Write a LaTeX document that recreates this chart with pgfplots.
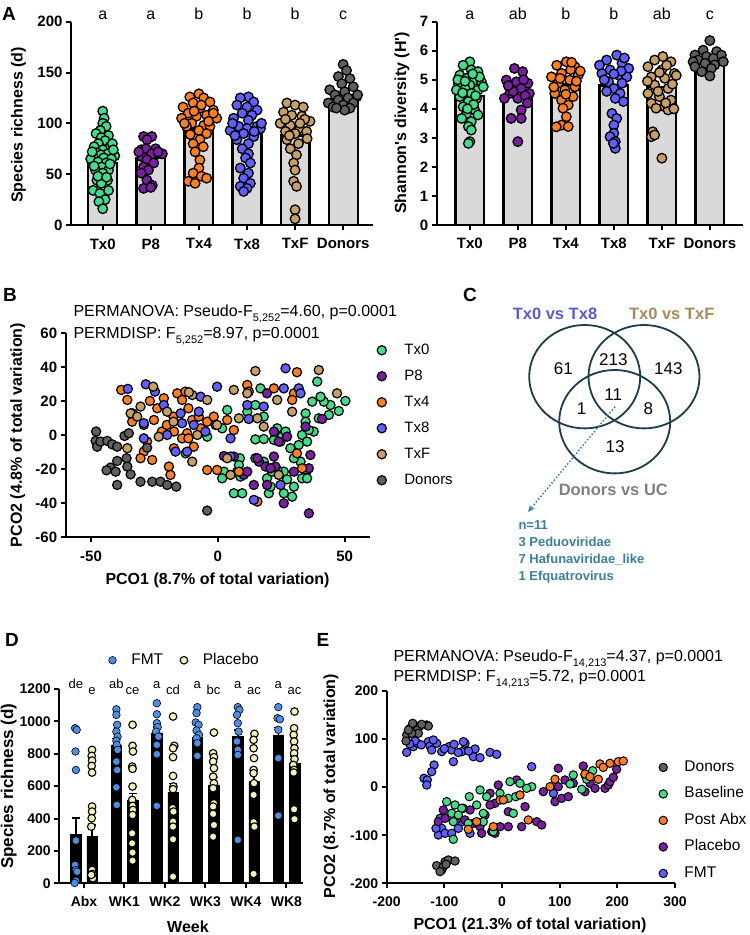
\documentclass[border=0pt]{standalone}
\usepackage{fontspec}
\setmainfont{Liberation Sans}
\usepackage{pgfplots}
\pgfplotsset{compat=1.18}
\usetikzlibrary{arrows.meta}
\newcommand\fs[1]{\fontsize{#1}{#1}\selectfont}
\definecolor{cTxZero}{HTML}{42DC8A}
\definecolor{cPE}{HTML}{7A1FA2}
\definecolor{cTxFour}{HTML}{FF7F1E}
\definecolor{cTxEight}{HTML}{5F5FFF}
\definecolor{cTxF}{HTML}{C9A064}
\definecolor{cDon}{HTML}{5F5F5F}
\definecolor{barfill}{HTML}{D9D9D9}
\definecolor{cFMT}{HTML}{4D8FE6}
\definecolor{cPla}{HTML}{F2F2B5}
\definecolor{venn}{HTML}{1F3C4C}
\definecolor{cTeal}{HTML}{3A8099}
\definecolor{vTxEight}{HTML}{5B5BD6}
\definecolor{vTxF}{HTML}{A88A5A}
\definecolor{vGray}{HTML}{7F7F7F}
\pgfplotsset{
  myaxis/.style={
    scale only axis,
    axis x line*=bottom, axis y line*=left,
    axis line style={line width=2pt, black},
    tick style={line width=2pt, black},
    tick align=outside,
    major tick length=5pt,
    minor tick num=0,
    /pgf/number format/assume math mode=true,
    /pgf/number format/1000 sep={},
    clip=false,
    every axis y label/.style={rotate=90, anchor=center, font=\bfseries\fs{16}},
    every axis x label/.style={anchor=center, font=\bfseries\fs{16}},
  },
  dot/.style={only marks, mark=*, mark size=#1},
  mylegend/.style={
    legend cell align=left,
    legend image code/.code={\draw[##1] plot coordinates {(0pt,0pt)};},
  },
}
\begin{document}
\begin{tikzpicture}
\path[use as bounding box] (0pt,0pt) rectangle (750pt,935pt);
% ---------------- Panel A left
\begin{axis}[myaxis, at={(71pt,710pt)}, anchor=south west, width=302pt, height=203.3pt,
  xmin=-0.66, xmax=5.62, ymin=0, ymax=200,
  xtick={0,...,5}, xticklabels={Tx0,P8,Tx4,Tx8,TxF,Donors},
  ytick={0,50,100,150,200},
  ticklabel style={font=\bfseries\fs{15}}, xticklabel style={yshift=-5pt},
  ylabel={Species richness (d)}, ylabel style={at={(axis description cs:-0.174,0.492)}}]
\addplot[ybar, bar shift=0pt, bar width=0.6, fill=barfill, draw=black, line width=2.2pt] coordinates {(0,61) (1,66) (2,95) (3,90) (4,88) (5,124)};
\addplot[dot=4.8pt, mark options={fill=cTxZero, draw=black, line width=1.3pt}] table[x expr=\thisrow{o}+0, y=v] {
o v
0.00 112
0.03 105
0.0 100
0.07 97
-0.05 93
-0.14 90
0.12 88
-0.03 86
0.05 83
-0.09 80
-0.18 77
0.15 77
0.0 74
-0.12 71
0.10 70
-0.04 69
0.25 68
-0.2 67
0.02 66
-0.25 65
0.18 65
-0.1 62
0.07 61
-0.02 57
-0.15 54
0.12 54
0.0 51
-0.12 44
0.1 44
-0.03 41
-0.2 34
0.12 34
-0.06 31
0.05 25
-0.08 23
0.0 16
0.2 80
-0.22 72
0.15 60
-0.18 58
0.22 74
-0.1 48
0.08 47
};
\addplot[dot=4.8pt, mark options={fill=cPE, draw=black, line width=1.3pt}] table[x expr=\thisrow{o}+1, y=v] {
o v
-0.15 87
0.02 87
-0.08 84
-0.2 74
-0.1 75
0.1 75
0.24 70
0.02 70
-0.18 67
-0.08 64
0.06 61
-0.15 57
-0.05 54
-0.2 51
-0.08 44
0.03 39
-0.15 36
0.0 37
0.15 72
-0.25 72
};
\addplot[dot=4.8pt, mark options={fill=cTxFour, draw=black, line width=1.3pt}] table[x expr=\thisrow{o}+2, y=v] {
o v
0 129
-0.19 126
0.1 125
0.23 121
-0.12 120
-0.33 116
0.02 115
0.3 113
-0.22 110
0.16 108
-0.05 107
-0.36 105
0.37 105
-0.15 100
0.1 98
-0.26 97
0.23 97
0 93
-0.18 89
0.16 90
0.02 84
-0.12 80
0.09 77
-0.08 72
0.02 64
0 56
-0.12 51
0.05 48
-0.22 43
-0.08 41
0.16 46
-0.3 100
0.3 110
0.05 118
-0.1 112
0.2 102
};
\addplot[dot=4.8pt, mark options={fill=cTxEight, draw=black, line width=1.3pt}] table[x expr=\thisrow{o}+3, y=v] {
o v
0.03 126
-0.14 125
0.14 121
-0.21 118
0 116
0.21 113
-0.1 110
0.1 108
-0.28 105
0.03 103
0.21 97
-0.17 97
0 95
-0.35 93
0.28 95
-0.07 90
0.14 87
-0.21 84
0.03 80
-0.1 75
0.03 70
-0.03 66
0.07 61
-0.14 56
0.03 51
-0.07 46
0.07 41
-0.14 38
0 36
-0.07 33
0.3 100
-0.3 100
0.15 92
-0.25 88
};
\addplot[dot=4.8pt, mark options={fill=cTxF, draw=black, line width=1.3pt}] table[x expr=\thisrow{o}+4, y=v] {
o v
-0.17 120
0 118
0.17 116
-0.24 111
-0.07 108
0.14 107
0.31 102
-0.31 100
-0.1 98
0.1 95
-0.2 92
0.24 92
0 90
-0.17 84
0.07 80
-0.1 75
0.03 69
-0.03 61
0 54
-0.03 43
0.03 38
0 15
0 6
0.2 104
-0.2 104
0.25 85
0.1 100
-0.12 88
};
\addplot[dot=4.8pt, mark options={fill=cDon, draw=black, line width=1.3pt}] table[x expr=\thisrow{o}+5, y=v] {
o v
0 158
0.07 152
-0.1 146
0.14 144
-0.03 139
0.21 136
-0.28 133
0.03 131
-0.17 128
0.28 126
0.1 125
-0.1 123
-0.31 120
0.21 120
0 118
-0.21 116
0.14 115
0.03 113
-0.14 115
0.3 128
};
\node[font=\fs{16}, anchor=base] at (axis cs:0,202) {a};
\node[font=\fs{16}, anchor=base] at (axis cs:1,202) {a};
\node[font=\fs{16}, anchor=base] at (axis cs:2,202) {b};
\node[font=\fs{16}, anchor=base] at (axis cs:3,202) {b};
\node[font=\fs{16}, anchor=base] at (axis cs:4,202) {b};
\node[font=\fs{16}, anchor=base] at (axis cs:5,202) {c};
\end{axis}
% ---------------- Panel A right
\begin{axis}[myaxis, at={(436.7pt,710pt)}, anchor=south west, width=306.3pt, height=203.3pt,
  xmin=-0.69, xmax=5.69, ymin=0, ymax=7,
  xtick={0,...,5}, xticklabels={Tx0,P8,Tx4,Tx8,TxF,Donors},
  ytick={0,...,7},
  ticklabel style={font=\bfseries\fs{15}}, xticklabel style={yshift=-5pt},
  ylabel={Shannon\textquotesingle s diversity (H\textquotesingle)}, ylabel style={at={(axis description cs:-0.113,0.502)}}]
\addplot[ybar, bar shift=0pt, bar width=0.6, fill=barfill, draw=black, line width=2.2pt] coordinates {(0,4.44) (1,4.42) (2,4.84) (3,4.8) (4,4.76) (5,5.63)};
\addplot[dot=4.8pt, mark options={fill=cTxZero, draw=black, line width=1.3pt}] table[x expr=\thisrow{o}+0, y=v] {
o v
0 5.62
-0.14 5.5
0.03 5.34
0.17 5.28
-0.21 5.16
-0.07 5.05
0.1 4.99
0.24 4.93
-0.24 4.88
0 4.82
-0.1 4.7
0.17 4.65
0.03 4.53
-0.21 4.42
0.14 4.36
-0.03 4.25
-0.14 4.07
0.1 3.96
-0.07 3.84
0.17 3.79
-0.17 3.67
0.03 3.56
-0.03 3.39
0.03 3.27
0 2.87
-0.03 2.81
0.28 4.76
-0.28 4.65
0.2 5.1
-0.15 4.55
0.08 4.15
-0.25 5.0
0.12 4.45
-0.1 4.95
0.06 5.2
-0.05 4.0
};
\addplot[dot=4.8pt, mark options={fill=cPE, draw=black, line width=1.3pt}] table[x expr=\thisrow{o}+1, y=v] {
o v
-0.07 5.39
0.1 5.28
-0.24 4.99
-0.03 4.93
0.21 4.88
0.07 4.7
-0.17 4.53
0.24 4.53
-0.28 4.36
0 4.36
0.07 3.96
-0.14 3.67
0.07 3.67
0 2.87
0.15 4.45
-0.1 4.6
0.12 5.0
-0.2 4.8
0.2 4.2
};
\addplot[dot=4.8pt, mark options={fill=cTxFour, draw=black, line width=1.3pt}] table[x expr=\thisrow{o}+2, y=v] {
o v
0.01 5.62
-0.19 5.5
0.19 5.45
-0.09 5.22
0.26 5.16
-0.3 5.1
0.08 4.99
-0.16 4.88
0.19 4.76
-0.02 4.65
-0.23 4.53
0.15 4.42
-0.09 4.3
0.05 4.13
-0.06 4.02
0.01 3.73
-0.09 3.44
0.05 3.39
-0.2 3.38
0.3 5.3
0.1 5.35
-0.25 4.75
0.22 4.95
0.0 4.5
0.12 5.6
-0.12 5.05
};
\addplot[dot=4.8pt, mark options={fill=cTxEight, draw=black, line width=1.3pt}] table[x expr=\thisrow{o}+3, y=v] {
o v
0.06 5.85
-0.15 5.68
0.17 5.57
0.31 5.39
-0.08 5.34
-0.25 5.22
0.1 5.16
0.27 5.1
-0.11 4.93
0.17 4.88
0 4.7
0.13 4.53
0.03 4.36
-0.04 3.84
0.06 3.67
0 3.44
0 3.16
-0.08 3.04
0.03 2.87
0.03 2.64
-0.01 2.81
-0.3 5.5
0.22 5.75
-0.2 5.0
0.15 5.3
0.0 5.2
-0.15 4.6
0.2 4.25
};
\addplot[dot=4.8pt, mark options={fill=cTxF, draw=black, line width=1.3pt}] table[x expr=\thisrow{o}+4, y=v] {
o v
0.02 5.8
-0.15 5.68
0.19 5.62
-0.29 5.45
0 5.34
0.26 5.22
-0.22 5.1
0.06 5.05
-0.15 4.82
0.13 4.7
-0.29 4.53
-0.05 4.42
0.19 4.3
-0.22 4.19
0.06 4.07
-0.12 4.02
0.13 3.96
-0.19 3.21
-0.22 3.04
-0.15 3.1
0 2.3
0.3 5.15
0.1 5.5
-0.08 4.6
0.22 4.85
-0.3 4.95
0.08 4.2
0.25 4.0
-0.05 5.25
};
\addplot[dot=4.8pt, mark options={fill=cDon, draw=black, line width=1.3pt}] table[x expr=\thisrow{o}+5, y=v] {
o v
0 6.35
-0.14 6.02
0.14 5.97
-0.31 5.85
0.24 5.85
-0.07 5.8
0.07 5.74
-0.24 5.68
0.28 5.62
-0.35 5.62
-0.1 5.57
0.1 5.51
-0.31 5.45
0.03 5.39
-0.17 5.28
0 5.13
};
\node[font=\fs{16}, anchor=base] at (axis cs:0,7.06) {a};
\node[font=\fs{16}, anchor=base] at (axis cs:1,7.06) {ab};
\node[font=\fs{16}, anchor=base] at (axis cs:2,7.06) {b};
\node[font=\fs{16}, anchor=base] at (axis cs:3,7.06) {b};
\node[font=\fs{16}, anchor=base] at (axis cs:4,7.06) {ab};
\node[font=\fs{16}, anchor=base] at (axis cs:5,7.06) {c};
\end{axis}
% ---------------- Panel B
\begin{axis}[myaxis, mylegend, at={(65.7pt,397.7pt)}, anchor=south west, width=304.3pt, height=204pt,
  xmin=-60, xmax=60, ymin=-60, ymax=60,
  xtick={-50,0,50}, ytick={-60,-40,...,60},
  ticklabel style={font=\bfseries\fs{15}}, xticklabel style={yshift=-5pt},
  xlabel={PCO1 (8.7\% of total variation)}, xlabel style={at={(axis description cs:0.499,-0.209)}},
  ylabel={PCO2 (4.8\% of total variation)}, ylabel style={at={(axis description cs:-0.158,0.501)}},
  legend style={at={(axis description cs:1.023,0.952)}, anchor=north west, draw=none, fill=none, inner sep=0pt, row sep=12pt, font=\fs{15}, nodes={inner sep=0pt, text height=11pt, text depth=3pt}, /tikz/every odd column/.append style={column sep=18pt}}]
\addlegendimage{dot=4.6pt, mark options={fill=cTxZero, draw=black, line width=1.2pt}}\addlegendentry{Tx0}
\addlegendimage{dot=4.6pt, mark options={fill=cPE, draw=black, line width=1.2pt}}\addlegendentry{P8}
\addlegendimage{dot=4.6pt, mark options={fill=cTxFour, draw=black, line width=1.2pt}}\addlegendentry{Tx4}
\addlegendimage{dot=4.6pt, mark options={fill=cTxEight, draw=black, line width=1.2pt}}\addlegendentry{Tx8}
\addlegendimage{dot=4.6pt, mark options={fill=cTxF, draw=black, line width=1.2pt}}\addlegendentry{TxF}
\addlegendimage{dot=4.6pt, mark options={fill=cDon, draw=black, line width=1.2pt}}\addlegendentry{Donors}
\addplot[forget plot, dot=4.6pt, mark options={fill=cTxZero, draw=black, line width=1.2pt}] table {
50.3 20.2
47.7 14.3
44.4 17.8
41.8 19.8
40.5 22.7
39.2 31.6
37.2 19.8
34.6 12.9
34.6 8
33.2 0.2
35.2 -3.7
31.9 -5.7
37.8 2.2
35.9 3.1
39.8 10
43.8 12
32.6 -15.5
35.2 -20.4
33.2 -25.3
35.2 -25.3
30 -30.2
29.3 -36.1
26 -34.1
26 -21.4
27.3 -25.9
23.4 -20.4
20.1 -34.1
20.8 -30.2
19.4 -25.3
21.4 -21.4
18.1 -15.5
14.8 -13.5
14.8 -2.4
18.1 -2.2
16.8 27.6
18.1 11
14.8 17.8
11.6 13.9
8.7 -13.5
7.6 -21.4
8.9 -24.3
6.3 -34.1
9.6 -34.1
8.3 -17.5
3.7 14.9
1.7 4.1
2.4 -21.4
1.7 -25.3
-4.2 -0.8
-12.7 -10.6
22.1 -2.7
24.7 -3.7
23.4 4.1
25.3 -0.8
26.7 2.2
28.6 -7.6
30 -13.5
};
\addplot[forget plot, dot=4.6pt, mark options={fill=cPE, draw=black, line width=1.2pt}] table {
19.4 24.7
22.1 2.2
24.0 -3.7
16.2 -15.5
15.6 -13.5
18.8 -18.4
10.2 -23.3
2.4 -12.2
6.3 -12.5
14.2 -29.2
19.4 -29.2
22.1 -12.5
22.7 -18.4
20.8 -19.4
26 -40
27.3 -0.8
30 -21.4
34.6 5.1
36.5 -11.6
35.9 -19.4
35.9 -45.9
41.1 9.6
11.6 -21.4
};
\addplot[forget plot, dot=4.6pt, mark options={fill=cTxFour, draw=black, line width=1.2pt}] table {
-38.1 26.7
-35.7 20.8
-33.8 8
-29.2 -9.6
-25.9 -14.5
-26.8 20.2
-23.9 15.9
-21.3 21.8
-25.2 9
-22.1 2.2
-20.1 6.1
-17.5 11
-16 24.7
-14.1 20.8
-12.8 25.7
-11.6 15.9
-10.1 9
-12.1 1.2
-14.1 -1.8
-11.6 -1.8
-9.5 -6.7
-17.3 -7.6
-19.3 -18.4
-18.7 -23.3
-17.3 2.2
-7.5 11
-6.8 4.1
-4.2 8
-1.6 11
-0.9 6.1
3.7 9
6.3 3.1
-4.2 -20.4
-0.3 -20.4
11.6 29.6
12.2 25.7
22.1 27.6
30 24.7
29.3 20.8
31.2 37.1
31.2 -10.6
33.2 -19.4
15.6 -39
8.3 -21.4
-29.2 6.1
-30.5 -13.5
-27.9 -3.7
};
\addplot[forget plot, dot=4.6pt, mark options={fill=cTxEight, draw=black, line width=1.2pt}] table {
-35.5 27.3
-28.4 30
-24.8 25.7
-33.6 12.9
-29.2 7.1
-29.2 -1.8
-21.3 17.8
-14.7 12.9
-14.1 7.1
-16.7 -9.6
-12.1 -9.6
-6.8 22.7
-7.5 13.9
-0.3 28.6
-4.9 2.2
5 -1.8
5 -12.5
11.6 17.8
12.2 9.6
14.2 -38
18.1 16.9
26 27.6
26.7 39.4
31.9 27.6
32.6 24.7
24.7 -29.2
-9.5 6.1
-20 0.2
};
\addplot[forget plot, dot=4.6pt, mark options={fill=cTxF, draw=black, line width=1.2pt}] table {
-25.5 28.6
-34.4 12.9
-31.8 11
-35.7 -7.6
-30.5 16.9
-23.3 -0.8
-20 13.9
-17.5 8
-10.1 23.7
-11.4 25.3
-10.1 -15.5
-8.1 0.2
-4.2 20.8
-0.3 6.1
6.3 26.7
8.3 10
14.8 37.8
11.6 24.7
15.6 10
18.1 5.1
23.4 20.8
29.3 13.9
39.8 38.4
47 24.7
24 -23.3
5 -23.3
3.7 -13.5
};
\addplot[forget plot, dot=4.6pt, mark options={fill=cDon, draw=black, line width=1.2pt}] table {
-48.2 -3.3
-47.6 -6.7
-46.3 -3.7
-43.6 -3.3
-41.7 -5.3
-39.7 -6.7
-36.8 -0.4
-35.1 1.2
-36 -13.5
-39.7 -15.1
-42.3 -19
-43.9 -20.6
-39.7 -29.2
-40.3 -21.4
-35.7 -18.4
-34.4 -23
-30.5 -27.3
-25.9 -27.3
-22.6 -27.3
-20 -29.2
-16.4 -30.2
-27.9 -7.3
-4.2 -44.3
-48 2.2
};
\end{axis}
% ---------------- Panel D
\begin{axis}[myaxis, mylegend, at={(59.3pt,51.7pt)}, anchor=south west, width=243.7pt, height=194.3pt,
  xmin=-0.61, xmax=5.41, ymin=0, ymax=1200,
  xtick={0,...,5}, xticklabels={Abx,WK1,WK2,WK3,WK4,WK8},
  ytick={0,200,...,1200},
  ticklabel style={font=\bfseries\fs{14}}, xticklabel style={yshift=-5pt},
  xlabel={Week}, xlabel style={at={(axis description cs:0.528,-0.225)}},
  ylabel={Species richness (d)}, ylabel style={at={(axis description cs:-0.208,0.5)}, font=\bfseries\fs{17}},
  legend columns=2,
  legend style={at={(axis description cs:0.202,1.185)}, anchor=north west, draw=none, fill=none, inner sep=0pt, font=\fs{15.5}, nodes={inner sep=0pt, text height=11pt, text depth=3pt}, /tikz/every odd column/.append style={column sep=15pt}, /tikz/every even column/.append style={column sep=17pt}}]
\addlegendimage{dot=3.8pt, mark options={fill=cFMT, draw=black, line width=0.6pt}}\addlegendentry{FMT}
\addlegendimage{dot=3.8pt, mark options={fill=cPla, draw=black, line width=1.1pt}}\addlegendentry{Placebo}
\addplot[forget plot, ybar, bar shift=0pt, bar width=0.26, fill=black, draw=black,
  error bars/.cd, y dir=plus, y explicit, error bar style={line width=1.5pt}, error mark options={rotate=90, mark size=4pt, line width=1.5pt}]
  coordinates {(-0.2,303) +- (0,100) (0.8,855) +- (0,40) (1.8,930) +- (0,35) (2.8,900) +- (0,30) (3.8,906) +- (0,40) (4.8,917) +- (0,45)};
\addplot[forget plot, ybar, bar shift=0pt, bar width=0.26, fill=black, draw=black,
  error bars/.cd, y dir=plus, y explicit, error bar style={line width=1.5pt}, error mark options={rotate=90, mark size=4pt, line width=1.5pt}]
  coordinates {(0.2,288) +- (0,72) (1.2,515) +- (0,41) (2.2,560) +- (0,55) (3.2,608) +- (0,45) (4.2,628) +- (0,50) (5.2,740) +- (0,45)};
\addplot[forget plot, dot=3.8pt, mark options={fill=cFMT, draw=black, line width=0.6pt}] table {
-0.22 958
-0.18 948
-0.21 814
-0.2 700
-0.2 264
-0.22 113
-0.2 82
-0.17 72
-0.2 16
-0.23 2
0.8 1075
0.8 1040
0.82 979
0.8 937
0.83 906
0.8 880
0.81 855
0.83 824
0.8 752
0.82 700
0.8 593
0.81 484
1.8 1112
1.8 1044
1.8 989
1.82 964
1.78 937
1.84 906
1.8 855
1.8 797
1.8 478
2.8 1088
2.78 1051
2.76 993
2.83 979
2.78 944
2.84 917
2.78 896
2.8 865
2.8 787
3.8 1088
3.84 1071
3.78 1040
3.8 989
3.82 937
3.78 876
3.8 824
3.8 793
3.8 268
4.8 1088
4.78 1020
4.84 1013
4.8 948
4.8 773
4.8 418
};
\addplot[forget plot, dot=3.8pt, mark options={fill=cPla, draw=black, line width=1.1pt}] table {
0.2 824
0.19 787
0.2 758
0.19 725
0.2 684
0.2 474
0.2 443
0.19 402
0.18 350
0.2 82
0.21 58
0.22 31
0.18 52
1.2 979
1.2 849
1.21 814
1.19 721
1.2 707
1.2 598
1.19 515
1.2 478
1.21 453
1.2 422
1.19 309
1.19 247
1.2 190
1.2 140
2.2 1030
2.23 849
2.2 834
2.2 779
2.2 663
2.21 598
2.2 581
2.19 464
2.21 443
2.2 381
2.2 350
2.2 272
2.2 41
3.21 931
3.19 803
3.21 779
3.19 752
3.21 711
3.19 659
3.21 618
3.19 587
3.21 494
3.19 474
3.19 429
3.21 360
3.19 288
4.21 923
4.19 886
4.19 834
4.2 773
4.19 700
4.19 680
4.2 618
4.19 546
4.19 377
4.21 350
4.19 58
5.2 1061
5.19 958
5.18 917
5.19 876
5.2 834
5.19 803
5.2 766
5.17 731
5.19 700
5.18 684
5.19 457
5.2 396
};
\foreach \c/\f/\p in {0/de/e,1/ab/ce,2/a/cd,3/a/bc,4/a/ac,5/a/ac}{
  \edef\temp{\noexpand\node[font=\noexpand\fs{13}, anchor=base] at (axis cs:\c-0.2,1204) {\f};
    \noexpand\node[font=\noexpand\fs{13}, anchor=base] at (axis cs:\c+0.2,1163) {\p};}
  \temp
}
\end{axis}
% ---------------- Panel E
\begin{axis}[myaxis, mylegend, at={(386.7pt,51.7pt)}, anchor=south west, width=288.3pt, height=192.3pt,
  xmin=-200, xmax=300, ymin=-200, ymax=200,
  xtick={-200,-100,...,300}, ytick={-200,-100,...,200},
  ticklabel style={font=\bfseries\fs{14}}, xticklabel style={yshift=-5pt},
  xlabel={PCO1 (21.3\% of total variation)}, xlabel style={at={(axis description cs:0.497,-0.217)}},
  ylabel={PCO2 (8.7\% of total variation)}, ylabel style={at={(axis description cs:-0.193,0.506)}},
  legend style={at={(axis description cs:0.944,0.64)}, anchor=north west, draw=none, fill=none, inner sep=0pt, row sep=12.5pt, font=\fs{15.5}, nodes={inner sep=0pt, text height=11pt, text depth=3pt}, /tikz/every odd column/.append style={column sep=17pt}}]
\addlegendimage{dot=4.2pt, mark options={fill=cDon, draw=black, line width=1pt}}\addlegendentry{Donors}
\addlegendimage{dot=4.2pt, mark options={fill=cTxZero, draw=black, line width=1pt}}\addlegendentry{Baseline}
\addlegendimage{dot=4.2pt, mark options={fill=cTxFour, draw=black, line width=1pt}}\addlegendentry{Post Abx}
\addlegendimage{dot=4.2pt, mark options={fill=cPE, draw=black, line width=1pt}}\addlegendentry{Placebo}
\addlegendimage{dot=4.2pt, mark options={fill=cTxEight, draw=black, line width=1pt}}\addlegendentry{FMT}
\addplot[forget plot, dot=4.2pt, mark options={fill=cTxEight, draw=black, line width=1pt}] table {
-165.3 72.4
-153.8 84.2
-146.8 91.2
-150.9 96
-127.7 94.6
-124.9 85.6
-122 77.3
-113.3 91.2
-104.6 73.8
-91.9 84.2
-87.3 77.3
-84.4 53
-69.9 73.8
-64.2 91.2
-67.1 94.6
-49.7 63.4
-46.8 79.4
-38.2 61.3
-20.8 72.4
-9.2 68.3
-83.2 89.1
-119.1 98.1
-117.9 46.1
-122 32.2
-135.3 18.4
-129.5 14.9
-130.6 4.5
51.4 42.6
-107.5 -64.8
-104.6 -85.6
-110.4 -99.5
-98.8 -96
-87.3 -96
-75.7 -85.6
-55.5 -96
-69.9 -71.8
-44 -75.2
-114.5 -85.6
89 -12.8
-160 90
-140 88
-100 80
-76 72
-58 75
};
\addplot[forget plot, dot=4.2pt, mark options={fill=cPE, draw=black, line width=1pt}] table {
-110.5 -71.8
-98.8 -64.8
-75.7 -64.8
-101.8 -47.5
-55.5 -47.5
-64.2 -68.3
-49.8 -75.2
-38.2 -82.2
-12.2 -96
-3.5 -82.2
10.9 -82.2
-20.8 -12.8
-12.2 -33.6
-20.8 -37.1
-6.5 4.5
10.9 -51
39.9 -40.5
34.1 -82.2
60.2 -71.8
68.8 -78.7
25.5 14.9
71.6 -9.4
91.9 -30.2
103.5 -23.2
97.6 39.2
97.6 1
109.2 14.9
115 -19.8
123.6 8
143.9 -9.4
140.9 44
152.6 8
161.3 -2.4
178.6 -2.4
184.4 4.5
187.3 11.4
193 20.5
198.8 37.1
-35.3 -96
-17.9 -92.5
-67.1 -44
-29.5 -57.9
};
\addplot[forget plot, dot=4.2pt, mark options={fill=cTxZero, draw=black, line width=1pt}] table {
-96 -30.2
-81.5 -37.1
-69.9 -44
-87.3 -54.4
-84.5 -71.8
-84.5 -108.5
-58.5 -75.2
-56.7 -19.8
-38.2 -5.9
-43.9 -37.1
-32.4 -54.4
-26.6 -19.8
-15.1 -92.6
-3.5 -12.8
10.9 -23.2
13.8 11.4
19.6 -54.4
31.2 8
51.5 1
42.8 -2.4
-32.4 -71.8
23.7 -19.8
123.6 25.3
117.9 6.6
138.2 -4.4
143.9 25.3
157.3 34.2
146.9 16.4
-75.7 -57.9
};
\addplot[forget plot, dot=4.2pt, mark options={fill=cTxFour, draw=black, line width=1pt}] table {
-58.5 -87.7
-44 -71.8
-15.1 -82.2
-3.5 -26.7
45.6 -68.3
91.9 16.4
83.2 1
169.9 48.2
187.3 49.6
201.7 53
210.4 54.4
167 16.4
143.9 27.4
152.6 21.8
175.6 41.1
2.3 -26.6
31.2 -16.3
};
\addplot[forget plot, dot=4.2pt, mark options={fill=cDon, draw=black, line width=1pt}] table {
-165.3 108.5
-166.5 96
-159.5 122.4
-150.9 127.9
-143.4 125.8
-130.6 129.3
-127.7 127.2
-146.8 118.9
-145.1 112
-156.6 112
-162.4 118.9
-139.3 130.7
-154.9 132.8
-113.3 -163.3
-104.6 -172.3
-98.8 -154.9
-93.1 -151.5
-81.5 -153.6
-101.7 -165.3
-107.5 -175.7
-97.1 -160.5
};
\end{axis}
% ---------------- Titles / annotations
\node[anchor=base west, font=\fs{16}] at (70pt,618.3pt) {PERMANOVA: Pseudo-F\raisebox{-0.3em}{\fs{11}5,252}=4.60, p=0.0001};
\node[anchor=base west, font=\fs{16}] at (70pt,596.7pt) {PERMDISP: F\raisebox{-0.3em}{\fs{11}5,252}=8.97, p=0.0001};
\node[anchor=base west, font=\fs{16}] at (390pt,273.3pt) {PERMANOVA: Pseudo-F\raisebox{-0.3em}{\fs{11}14,213}=4.37, p=0.0001};
\node[anchor=base west, font=\fs{16}] at (390pt,253.3pt) {PERMDISP: F\raisebox{-0.3em}{\fs{11}14,213}=5.72, p=0.0001};
% panel letters
\node[font=\bfseries\fs{19}] at (9pt,921.5pt) {A};
\node[font=\bfseries\fs{19}] at (10pt,640pt) {B};
\node[font=\bfseries\fs{19}] at (470pt,640pt) {C};
\node[font=\bfseries\fs{19}] at (12pt,295pt) {D};
\node[font=\bfseries\fs{19}] at (323pt,295pt) {E};
% ---------------- Panel C Venn
\draw[venn, line width=1.8pt] (584.7pt,558.3pt) ellipse [x radius=55.5pt, y radius=51.7pt];
\draw[venn, line width=1.8pt] (644pt,558.3pt) ellipse [x radius=55.5pt, y radius=51.7pt];
\draw[venn, line width=1.8pt] (614.7pt,513.3pt) ellipse [x radius=55.5pt, y radius=51.7pt];
\node[font=\fs{17}] at (563.3pt,566.7pt) {61};
\node[font=\fs{17}] at (613.3pt,575.7pt) {213};
\node[font=\fs{17}] at (668.3pt,566.7pt) {143};
\node[font=\fs{17}] at (613.3pt,540pt) {11};
\node[font=\fs{17}] at (581.7pt,526.7pt) {1};
\node[font=\fs{17}] at (648.3pt,526.7pt) {8};
\node[font=\fs{17}] at (615pt,488.3pt) {13};
\node[font=\bfseries\fs{16.5}, text=vTxEight] at (555pt,621pt) {Tx0 vs Tx8};
\node[font=\bfseries\fs{16.5}, text=vTxF] at (671.7pt,621pt) {Tx0 vs TxF};
\node[font=\bfseries\fs{16.5}, text=vGray] at (613.3pt,445pt) {Donors vs UC};
\draw[cTeal, line width=1.5pt, dotted, -{Stealth[length=7pt,width=6pt]}] (615pt,528.3pt) -- (528pt,423pt);
\node[anchor=west, font=\bfseries\fs{13}, text=cTeal] at (515pt,410pt) {n=11};
\node[anchor=west, font=\bfseries\fs{13}, text=cTeal] at (515pt,392.7pt) {3 Peduoviridae};
\node[anchor=west, font=\bfseries\fs{13}, text=cTeal] at (515pt,375pt) {7 Hafunaviridae\_like};
\node[anchor=west, font=\bfseries\fs{13}, text=cTeal] at (515pt,358.3pt) {1 Efquatrovirus};
\end{tikzpicture}
\end{document}
